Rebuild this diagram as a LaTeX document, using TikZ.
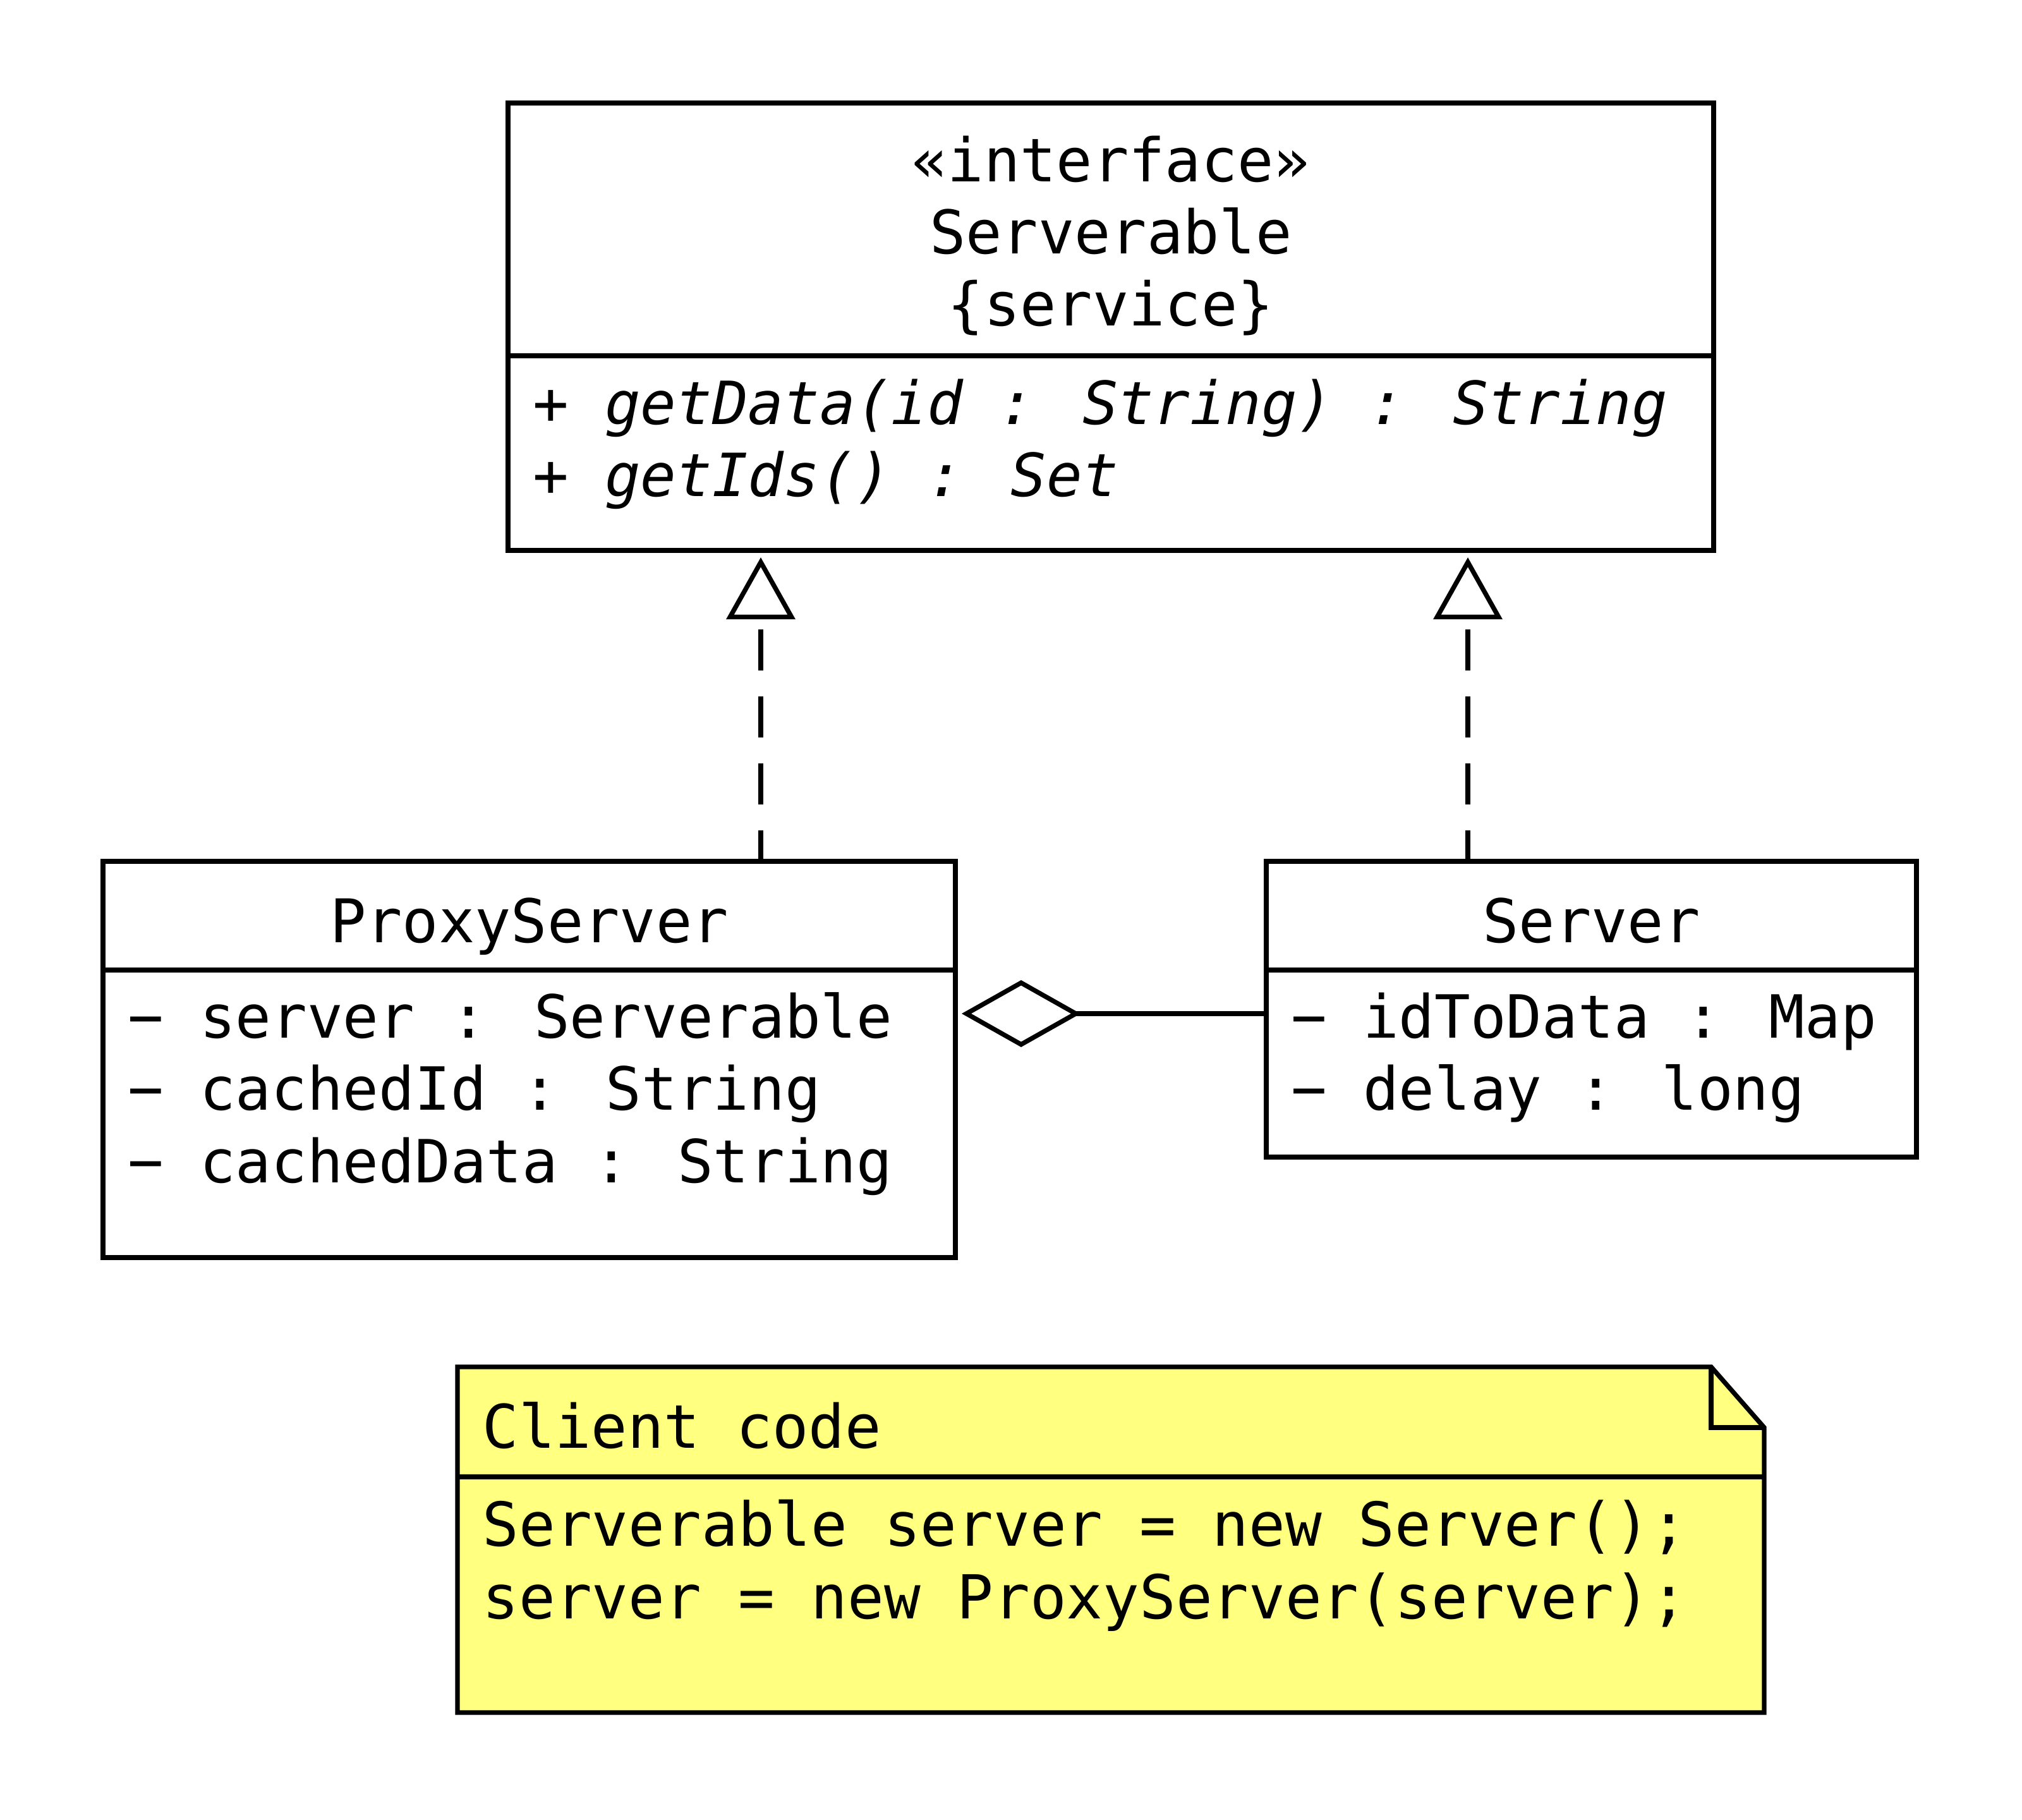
\documentclass[tikz,border=0pt]{standalone}
\usepackage{fontspec}
\setmainfont{DejaVu Sans Mono}[WordSpace={1,0,0}]
\usetikzlibrary{arrows.meta, positioning}
\definecolor{noteyellow}{RGB}{255, 255, 128}

\begin{document}
\begin{tikzpicture}[
    line width=2.1pt,
    box/.style={draw, fill=white, rectangle, inner sep=0pt, outer sep=0pt, anchor=north west},
    txt/.style={inner sep=0pt, font=\fontsize{27.1}{32.44}\selectfont},
    lines/.style={txt, text width=#1, align=flush left, anchor=base west},
    member/.style={lines=#1, font=\fontsize{26.8}{32.44}\selectfont},
    realize/.style={dash pattern=on 0.65cm off 0.41cm, dash phase=0.16cm,
      -{Triangle[open, length=0.98cm, width=1.08cm]}, shorten >=0.11cm},
    aggr/.style={-{Diamond[open, length=1.88cm, width=1.06cm]}, shorten >=0.1cm}
  ]
  \fill[white] (0,0) rectangle (32,28.8);

  % interface
  \node[box, minimum width=19.08cm, minimum height=4.00cm] (ifhead) at (8.04,27.17) {};
  \node[box, minimum width=19.08cm, minimum height=3.08cm] (ifbody) at (ifhead.south west) {};
  \node[txt, text width=19cm, align=flush center, anchor=base] (ifname) at ([yshift=-1.25cm]ifhead.north)
    {«interface»\\Serverable\\\{service\}};
  \node[member=18.5cm, font={\fontsize{26.8}{32.44}\selectfont\itshape}] (ifops)
    at ([shift={(0.36,-1.09)}]ifbody.north west)
    {+ getData(id : String) : String\\+ getIds() : Set};

  % classes
  \node[box, minimum width=13.49cm, minimum height=1.72cm] (pxyhead) at (1.63,15.17) {};
  \node[box, minimum width=13.49cm, minimum height=4.55cm] (pxybody) at (pxyhead.south west) {};
  \node[txt, anchor=base] (pxyname) at ([yshift=-1.29cm]pxyhead.north) {ProxyServer};
  \node[member=12.8cm] (pxyattr) at ([shift={(0.36,-1.08)}]pxybody.north west)
    {− server : Serverable\\− cachedId : String\\− cachedData : String};

  \node[box, minimum width=10.29cm, minimum height=1.72cm] (srvhead) at (20.04,15.17) {};
  \node[box, minimum width=10.29cm, minimum height=2.96cm] (srvbody) at (srvhead.south west) {};
  \node[txt, anchor=base] (srvname) at ([yshift=-1.29cm]srvhead.north) {Server};
  \node[member=9.6cm] (srvattr) at ([shift={(0.36,-1.08)}]srvbody.north west)
    {− idToData : Map\\− delay : long};

  % note
  \coordinate (notenw) at (7.24,7.17);
  \coordinate (notefold) at (27.08,6.21);
  \coordinate (notese) at (27.92,1.70);
  \draw[fill=noteyellow] (notenw) -- (notenw -| notefold) -- (notefold -| notese)
    -- (notese) -- (notenw |- notese) -- cycle;
  \draw (notenw -| notefold) -- (notefold) -- (notefold -| notese);
  \draw (7.24,5.43) -- (27.92,5.43);
  \node[txt, anchor=base west] (notetitle) at ([shift={(0.36,-1.29)}]notenw) {Client code};
  \node[lines=19.5cm, font=\fontsize{27.3}{32.44}\selectfont] (notecode) at ([shift={(0.36,-2.84)}]notenw)
    {Serverable server = new Server();\\server = new ProxyServer(server);};

  % connectors
  \coordinate (ifL) at (12.04,0);
  \coordinate (ifR) at (23.23,0);
  \coordinate (agg) at (0,12.76);
  \draw[realize] (pxyhead.north -| ifL) -- (ifbody.south -| ifL);
  \draw[realize] (srvhead.north -| ifR) -- (ifbody.south -| ifR);
  \draw[aggr] (srvbody.west |- agg) -- (pxybody.east |- agg);
\end{tikzpicture}
\end{document}
